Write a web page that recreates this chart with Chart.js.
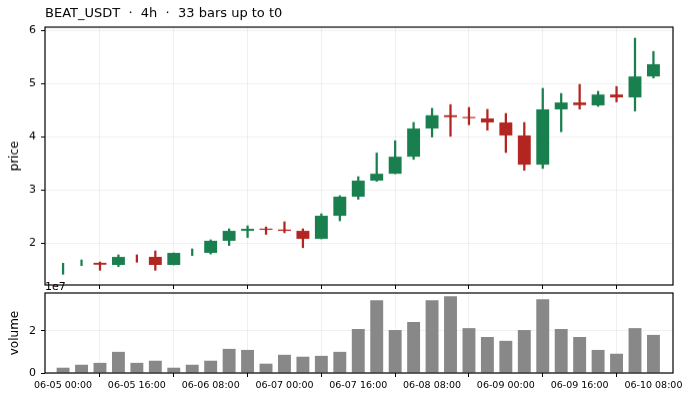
<!doctype html>
<html>

<head>
	<title>BEAT_USDT 4h</title>
	<script src="https://cdn.jsdelivr.net/npm/chart.js@4/dist/chart.umd.min.js"></script>
	<style>
		html, body {
			margin: 0;
			padding: 0;
			background: #fff;
		}
		.wrap {
			position: absolute;
			left: 0;
			width: 691px;
		}
	</style>
</head>

<body>
	<div class="wrap" style="top:0;height:295.6px"><canvas id="price"></canvas></div>
	<div class="wrap" style="top:276px;height:124px"><canvas id="volume"></canvas></div>
	<script>
		// candles, oldest first (4h bars from 06-05 00:00)
		const open = [1.45, 1.59, 1.625, 1.585, 1.74, 1.736, 1.585, 1.78, 1.811, 2.038, 2.226, 2.264, 2.25, 2.226, 2.075, 2.51, 2.868,
			3.17, 3.30, 3.62, 4.15, 4.40, 4.36, 4.34, 4.264, 4.02, 3.47, 4.51, 4.64, 4.585, 4.79, 4.736, 5.13];
		const high = [1.617, 1.679, 1.642, 1.774, 1.774, 1.849, 1.811, 1.887, 2.057, 2.264, 2.32, 2.30, 2.396, 2.264, 2.547, 2.887, 3.245,
			3.69, 3.92, 4.264, 4.53, 4.60, 4.547, 4.51, 4.434, 4.264, 4.906, 4.81, 4.98, 4.85, 4.94, 5.85, 5.60];
		const low = [1.409, 1.572, 1.485, 1.553, 1.636, 1.485, 1.585, 1.76, 1.79, 1.95, 2.10, 2.16, 2.19, 1.91, 2.075, 2.415, 2.82,
			3.157, 3.30, 3.57, 3.99, 4.005, 4.22, 4.12, 3.70, 3.365, 3.40, 4.09, 4.515, 4.566, 4.65, 4.48, 5.10];
		const close = [1.58, 1.66, 1.59, 1.735, 1.66, 1.585, 1.811, 1.87, 2.038, 2.226, 2.264, 2.245, 2.226, 2.075, 2.51, 2.868, 3.17,
			3.30, 3.62, 4.15, 4.40, 4.365, 4.345, 4.264, 4.02, 3.47, 4.51, 4.64, 4.59, 4.79, 4.736, 5.13, 5.36];
		const volume = [2.5e6, 3.9e6, 4.8e6, 1.0e7, 4.8e6, 5.8e6, 2.5e6, 3.9e6, 5.8e6, 1.14e7, 1.09e7, 4.4e6, 8.6e6, 7.7e6, 8.1e6, 1.0e7, 2.08e7,
			3.44e7, 2.03e7, 2.41e7, 3.44e7, 3.63e7, 2.12e7, 1.70e7, 1.52e7, 2.03e7, 3.48e7, 2.08e7, 1.70e7, 1.09e7, 9.1e6, 2.12e7, 1.80e7];
		// bars drawn without a body in the source picture
		const noBody = [0, 1, 4, 7];

		const timeTickIdx = [0, 4, 8, 12, 16, 20, 24, 28, 32];
		const timeTickLabels = ['06-05 00:00', '06-05 16:00', '06-06 08:00', '06-07 00:00', '06-07 16:00',
			'06-08 08:00', '06-09 00:00', '06-09 16:00', '06-10 08:00'];
		const priceTicks = [2, 3, 4, 5, 6];
		const volumeTicks = [0, 2e7];

		const UP = '#1a7f4e';
		const DOWN = '#b22520';
		const FONT = 'DejaVu Sans';

		const candleColor = (ctx) => {
			const i = ctx.dataIndex;
			return close[i] >= open[i] ? UP : DOWN;
		};

		// full box round the plot area, like the source
		const frame = {
			id: 'frame',
			afterDraw(chart) {
				const a = chart.chartArea;
				const c = chart.ctx;
				c.save();
				c.strokeStyle = '#000';
				c.lineWidth = 1.2;
				c.strokeRect(a.left, a.top, a.right - a.left, a.bottom - a.top);
				c.restore();
			}
		};

		const offsetText = {
			id: 'offsetText',
			afterDraw(chart) {
				const c = chart.ctx;
				c.save();
				c.fillStyle = '#000';
				c.font = '11px "' + FONT + '"';
				c.textAlign = 'left';
				c.textBaseline = 'alphabetic';
				c.fillText('1e7', chart.chartArea.left, chart.chartArea.top - 3);
				c.restore();
			}
		};

		const timeAxis = (showLabels, height) => ({
			type: 'linear',
			min: -0.98,
			max: 33.06,
			offset: false,
			afterBuildTicks(scale) {
				scale.ticks = timeTickIdx.map((v) => ({ value: v }));
			},
			afterFit(scale) {
				scale.height = height;
			},
			grid: {
				color: 'rgba(0,0,0,0.06)',
				tickColor: '#000',
				tickLength: 4,
				tickWidth: 1
			},
			border: { display: false },
			ticks: {
				autoSkip: false,
				maxRotation: 0,
				padding: 3,
				color: showLabels ? '#000' : 'rgba(0,0,0,0)',
				font: { family: FONT, size: 9.5 },
				callback: (v) => timeTickLabels[timeTickIdx.indexOf(v)]
			}
		});

		const valueAxis = (min, max, ticks, label, fmt) => ({
			min: min,
			max: max,
			afterBuildTicks(scale) {
				scale.ticks = ticks.map((v) => ({ value: v }));
			},
			afterFit(scale) {
				scale.width = 45;
			},
			grid: {
				color: 'rgba(0,0,0,0.06)',
				tickColor: '#000',
				tickLength: 4,
				tickWidth: 1
			},
			border: { display: false },
			title: {
				display: true,
				text: label,
				color: '#000',
				font: { family: FONT, size: 12 },
				padding: { top: 8, bottom: 0 }
			},
			ticks: {
				padding: 5,
				color: '#000',
				font: { family: FONT, size: 11 },
				callback: fmt
			}
		});

		const bodies = open.map((o, i) => ({ x: i, y: noBody.includes(i) ? null : [o, close[i]] }));
		const wicks = open.map((o, i) => ({ x: i, y: [low[i], high[i]] }));
		const vols = volume.map((v, i) => ({ x: i, y: v }));

		Chart.defaults.font.family = FONT;
		Chart.defaults.color = '#000';

		new Chart(document.getElementById('price'), {
			type: 'bar',
			data: {
				datasets: [{
					label: 'body',
					data: bodies,
					grouped: false,
					backgroundColor: candleColor,
					borderWidth: 0,
					barPercentage: 0.7,
					categoryPercentage: 1,
					minBarLength: 1.2
				}, {
					label: 'wick',
					data: wicks,
					grouped: false,
					backgroundColor: candleColor,
					borderWidth: 0,
					barThickness: 1.6
				}]
			},
			options: {
				responsive: true,
				maintainAspectRatio: false,
				animation: false,
				layout: { padding: { left: 0, right: 18, top: 0, bottom: 0 } },
				scales: {
					x: timeAxis(false, 8),
					y: valueAxis(1.208, 6.057, priceTicks, 'price', (v) => String(v))
				},
				plugins: {
					legend: { display: false },
					tooltip: { enabled: false },
					title: {
						display: true,
						fullSize: false,
						align: 'start',
						text: 'BEAT_USDT  \u00b7  4h  \u00b7  33 bars up to t0',
						color: '#000',
						font: { family: FONT, size: 13, weight: 'normal' },
						padding: { top: 6, bottom: 5.4 }
					}
				}
			},
			plugins: [frame]
		});

		new Chart(document.getElementById('volume'), {
			type: 'bar',
			data: {
				datasets: [{
					label: 'volume',
					data: vols,
					backgroundColor: '#888888',
					borderWidth: 0,
					barPercentage: 0.7,
					categoryPercentage: 1
				}]
			},
			options: {
				responsive: true,
				maintainAspectRatio: false,
				animation: false,
				layout: { padding: { left: 0, right: 18, top: 17, bottom: 0 } },
				scales: {
					x: timeAxis(true, 27),
					y: valueAxis(0, 3.78e7, volumeTicks, 'volume', (v) => String(v / 1e7))
				},
				plugins: {
					legend: { display: false },
					tooltip: { enabled: false }
				}
			},
			plugins: [frame, offsetText]
		});
	</script>
</body>

</html>
